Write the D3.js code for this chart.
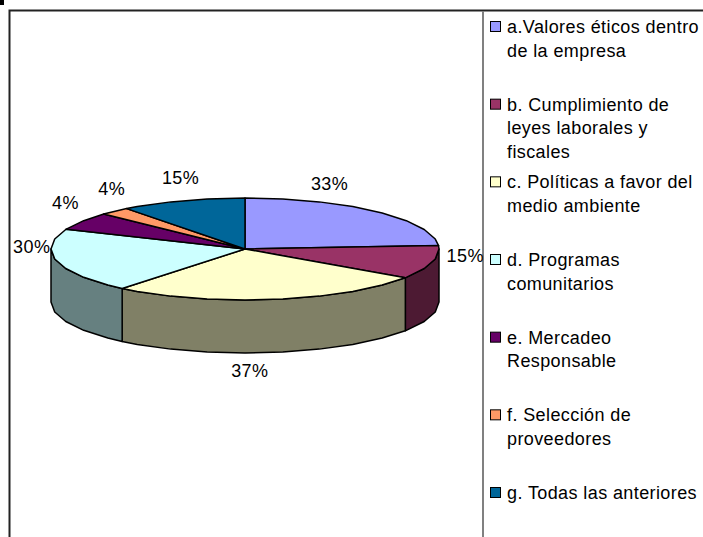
<!DOCTYPE html>
<html>
<head>
<meta charset="utf-8">
<script src="https://cdn.jsdelivr.net/npm/d3@7"></script>
<style>
  html, body { margin: 0; padding: 0; background: #fff; overflow: hidden; }
  text { font-family: "Liberation Sans", Arial, sans-serif; fill: #000; }
</style>
</head>
<body>
<div id="chart"></div>
<script>
// values as printed on the slices
const categories = ["a", "b", "c", "d", "e", "f", "g"];
const percentLabels = [33, 15, 37, 30, 4, 4, 15];
// slice sizes as they look in the picture, not quite the same as the printed ones
const sliceShares = [33, 14.6, 36.4, 28.2, 7.8, 3.5, 14.4];
const legendLines = [
  ["a.Valores éticos dentro", "de la empresa"],
  ["b. Cumplimiento de", "leyes laborales y", "fiscales"],
  ["c. Políticas a favor del", "medio ambiente"],
  ["d. Programas", "comunitarios"],
  ["e. Mercadeo", "Responsable"],
  ["f. Selección de", "proveedores"],
  ["g. Todas las anteriores"]
];
const sliceColors = ["#9999ff", "#993366", "#ffffcc", "#ccffff", "#660066", "#ff9966", "#006699"];
const wallColors = ["#4d4d80", "#4d1a33", "#808066", "#668080", "#330033", "#804d33", "#004d4d"];
// label nudges from the rim point of each slice
const labelNudge = [[-48, -28], [33, -6], [-23, 72], [-25, -14], [-17, -18], [-3, -22], [-2, -23]];

const width = 703, height = 537;
const cx = 245, cy = 249, rx = 194, ry = 51, depth = 53;
const fontSize = 18, tracking = 0.4;

const svg = d3.select("#chart").append("svg")
  .attr("width", width)
  .attr("height", height);

// frame
svg.append("rect").attr("x", 0).attr("y", 0).attr("width", 4).attr("height", 5).attr("fill", "#000");
svg.append("path").attr("d", "M9.5,537V10.5H703").attr("fill", "none").attr("stroke", "#222").attr("stroke-width", 2);
svg.append("line").attr("x1", 483).attr("x2", 483).attr("y1", 11).attr("y2", 537)
  .attr("stroke", "#808080").attr("stroke-width", 2);

const pie = d3.pie().sort(null).value(d => d);
const arcs = pie(sliceShares);

const px = a => cx + rx * Math.sin(a);
const py = a => cy - ry * Math.cos(a);

// the original is drawn with coarse polygons, so sample the rim the same way
const step = Math.PI / 16;
function rim(a0, a1) {
  const pts = [a0];
  let a = Math.ceil(a0 / step + 1e-6) * step;
  while (a < a1 - 1e-6) { pts.push(a); a += step; }
  pts.push(a1);
  return pts;
}

const line = d3.line();
const front0 = Math.PI / 2, front1 = Math.PI * 3 / 2;

// walls first, only the part of the rim facing the viewer
const walls = svg.append("g");
arcs.forEach((d, i) => {
  const a0 = Math.max(d.startAngle, front0), a1 = Math.min(d.endAngle, front1);
  if (a1 <= a0) return;
  const pts = rim(a0, a1);
  const top = pts.map(a => [px(a), py(a)]);
  const bottom = pts.slice().reverse().map(a => [px(a), py(a) + depth]);
  walls.append("path")
    .attr("d", line(top.concat(bottom)) + "Z")
    .attr("fill", wallColors[i])
    .attr("stroke", "#000")
    .attr("stroke-width", 1.5)
    .attr("stroke-linejoin", "round");
});

// top faces
const faces = svg.append("g");
arcs.forEach((d, i) => {
  const pts = rim(d.startAngle, d.endAngle).map(a => [px(a), py(a)]);
  faces.append("path")
    .attr("d", line([[cx, cy]].concat(pts)) + "Z")
    .attr("fill", sliceColors[i])
    .attr("stroke", "#000")
    .attr("stroke-width", 1.5)
    .attr("stroke-linejoin", "round");
});

// percent labels
svg.append("g").selectAll("text")
  .data(arcs)
  .join("text")
  .attr("x", (d, i) => px((d.startAngle + d.endAngle) / 2) + labelNudge[i][0])
  .attr("y", (d, i) => py((d.startAngle + d.endAngle) / 2) + labelNudge[i][1])
  .attr("text-anchor", "middle")
  .attr("dominant-baseline", "central")
  .attr("font-size", fontSize)
  .attr("letter-spacing", tracking)
  .text((d, i) => percentLabels[i] + "%");

// legend
const legendY = d3.scalePoint().domain(categories).range([27, 493]);
const legend = svg.append("g").selectAll("g")
  .data(categories)
  .join("g")
  .attr("transform", d => `translate(490,${legendY(d)})`);

legend.append("rect")
  .attr("x", 0.5).attr("y", -5.5)
  .attr("width", 10).attr("height", 10)
  .attr("fill", (d, i) => sliceColors[i])
  .attr("stroke", "#000")
  .attr("stroke-width", 1);

legend.each(function (d, i) {
  d3.select(this).selectAll("text")
    .data(legendLines[i])
    .join("text")
    .attr("x", 17)
    .attr("y", (t, j) => j * 23.5)
    .attr("dominant-baseline", "central")
    .attr("font-size", fontSize)
    .attr("letter-spacing", tracking)
    .text(t => t);
});
</script>
</body>
</html>
